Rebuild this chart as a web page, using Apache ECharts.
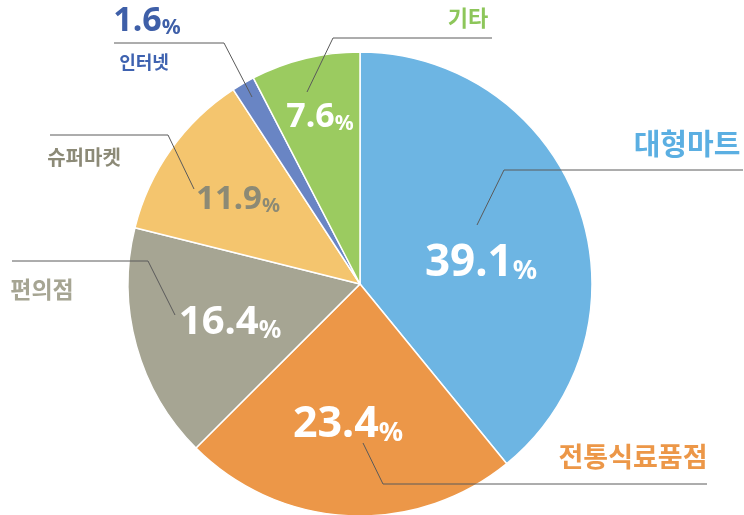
<!DOCTYPE html>
<html>
<head>
<meta charset="utf-8">
<script src="https://cdn.jsdelivr.net/npm/echarts@6/dist/echarts.min.js"></script>
<style>
html,body{margin:0;padding:0;background:#fff;}
#chart{width:744px;height:515px;}
</style>
</head>
<body>
<div id="chart"></div>
<script>
// ---- data ----
const categories = ['대형마트', '전통식료품점', '편의점', '슈퍼마켓', '인터넷', '기타'];
const shares = [39.1, 23.4, 16.4, 11.9, 1.6, 7.6];
const sliceColors = ['#6DB5E3', '#EC9748', '#A6A593', '#F4C56E', '#6985C4', '#9BCB60'];
const nameColors = ['#5BAFE2', '#EC9748', '#A6A593', '#8C8A77', '#3E62B0', '#8DC65A'];
const valueColors = ['#ffffff', '#ffffff', '#ffffff', '#8C8A75', '#3E5FA8', '#ffffff'];

// ---- layout (label placement only) ----
const valueFont = [44, 43, 40, 33, 34, 34];
const valuePos = [[481, 261], [348, 423], [230, 321], [238, 198], [147, 20], [320, 116]];
const nameFont = [29, 27, 23, 20, 18, 22];
const namePos = [[687, 144], [633, 457], [42, 289], [84, 157], [144, 62], [468, 18]];
const nameLines = [
  [[477, 225], [504, 170], [743, 170]],
  [[363, 443], [383, 484], [707, 484]],
  [[175, 315], [148, 261], [12, 261]],
  [[194, 189], [168, 135], [50, 135]],
  [[252, 97], [224, 43], [114, 43]],
  [[307, 92], [333, 38], [492, 38]]
];

const numFamily = "'Noto Sans', 'DejaVu Sans', sans-serif";
const krFamily = "'Noto Sans CJK KR', 'Noto Sans', sans-serif";

const mainData = categories.map((c, i) => ({
  name: c,
  value: shares[i],
  itemStyle: { color: sliceColors[i] },
  label: {
    rich: {
      v: { fontFamily: numFamily, fontWeight: 'bold', fontSize: valueFont[i], color: valueColors[i], verticalAlign: 'bottom', lineHeight: valueFont[i] * 1.1 },
      p: { fontFamily: numFamily, fontWeight: 'bold', fontSize: Math.round(valueFont[i] * 0.62), color: valueColors[i], verticalAlign: 'bottom', lineHeight: valueFont[i] * 1.0 }
    }
  }
}));

const nameData = categories.map((c, i) => ({
  name: c,
  value: shares[i],
  label: {
    fontFamily: krFamily, fontWeight: 'bold', fontSize: nameFont[i], color: nameColors[i]
  }
}));

const chart = echarts.init(document.getElementById('chart'), null, { renderer: 'canvas' });
chart.setOption({
  animation: false,
  backgroundColor: '#ffffff',
  series: [
    {
      type: 'pie',
      center: [360, 284],
      radius: [0, 232],
      startAngle: 90,
      clockwise: true,
      silent: true,
      itemStyle: { borderColor: '#ffffff', borderWidth: 1.5 },
      label: {
        show: true,
        position: 'inside',
        formatter: p => '{v|' + p.value.toFixed(1) + '}{p|%}'
      },
      labelLine: { show: false },
      labelLayout: params => ({
        x: valuePos[params.dataIndex][0],
        y: valuePos[params.dataIndex][1],
        align: 'center',
        verticalAlign: 'middle'
      }),
      data: mainData
    },
    {
      type: 'pie',
      center: [360, 284],
      radius: [0, 150],
      startAngle: 90,
      clockwise: true,
      silent: true,
      z: 5,
      itemStyle: { color: 'rgba(0,0,0,0)' },
      label: { show: true, position: 'outside', formatter: '{b}' },
      labelLine: { show: true, smooth: false, lineStyle: { color: '#5a5a5a', width: 1 } },
      labelLayout: params => ({
        x: namePos[params.dataIndex][0],
        y: namePos[params.dataIndex][1],
        align: 'center',
        verticalAlign: 'middle',
        labelLinePoints: nameLines[params.dataIndex]
      }),
      data: nameData
    }
  ]
});
</script>
</body>
</html>
